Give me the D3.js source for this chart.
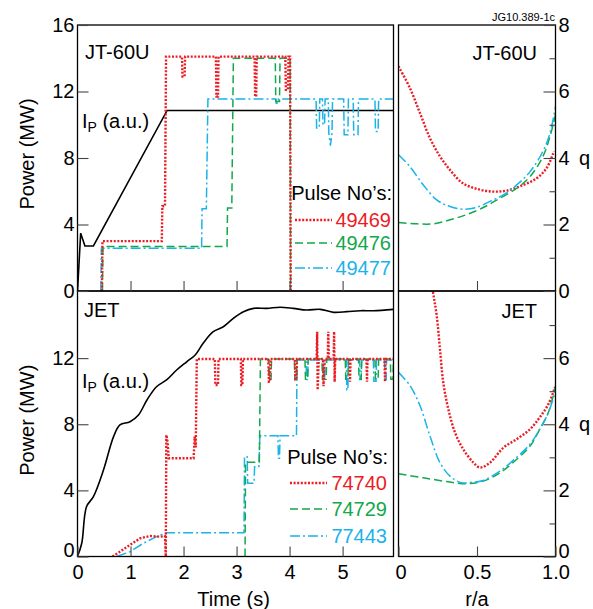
<!DOCTYPE html>
<html lang="en">

<head>
    <meta charset="UTF-8">
    <title>JT-60U / JET power and q profiles</title>
    <script src="https://d3js.org/d3.v7.min.js"></script>
    <style>
        body { margin: 0; background: #fff; }
        text { font-family: "Liberation Sans", Arial, Helvetica, sans-serif; }
    </style>
</head>

<body>
    <svg id="chart" width="593" height="609"></svg>
    <script>
        // ---- data ----
        const timeTicks = [0, 1, 2, 3, 4, 5];
        const rTicks = [0, 0.5, 1.0];
        const powerTicksTop = [0, 4, 8, 12, 16];
        const powerTicksBot = [0, 4, 8, 12];
        const qTicksTop = [0, 2, 4, 6, 8];
        const qTicksBot = [0, 2, 4, 6];
        const qMinor = [1, 3, 5, 7];

        const jt60uPulses = ["49469", "49476", "49477"];
        const jetPulses = ["74740", "74729", "77443"];

        // JT-60U: [time (s), power (MW)]
        const jt60uIp = [[0, 0], [0.06, 3.48], [0.14, 2.71], [0.30, 2.71], [1.69, 10.86], [5.96, 10.86]];
        const jt60u49469 = [[0.46, 0], [0.47, 3.0], [1.59, 3.0], [1.60, 5.1], [1.65, 5.1], [1.67, 14.1],
            [1.97, 14.1], [1.98, 12.9], [2.02, 12.9], [2.03, 14.1], [2.61, 14.1], [2.62, 11.7], [2.65, 11.7],
            [2.66, 14.1], [3.34, 14.1], [3.35, 11.7], [3.37, 11.7], [3.38, 14.1], [3.92, 14.1], [3.93, 12.1],
            [3.97, 12.1], [3.98, 14.1], [4.01, 14.1], [4.02, 0]];
        const jt60u49476 = [[0.47, 0], [0.48, 2.67], [2.82, 2.67], [2.83, 5.0], [2.91, 5.0], [2.94, 14.0],
            [3.73, 14.0], [3.74, 11.4], [3.81, 11.4], [3.82, 14.0], [4.01, 14.0], [4.02, 0]];
        const jt60u49477 = [[0.44, 0], [0.45, 2.57], [2.34, 2.57], [2.35, 4.95], [2.43, 4.95], [2.46, 11.55],
            [3.74, 11.55], [3.75, 11.3], [3.78, 11.3], [3.79, 11.55], [4.50, 11.55], [4.51, 9.8], [4.56, 9.8],
            [4.57, 11.55], [4.62, 11.55], [4.63, 10.0], [4.66, 10.0], [4.67, 11.55], [4.73, 11.55], [4.74, 9.5],
            [4.77, 8.75], [4.80, 9.5], [4.81, 11.55], [5.02, 11.55], [5.03, 9.4], [5.10, 9.4], [5.11, 11.55],
            [5.20, 11.55], [5.21, 9.4], [5.29, 9.4], [5.30, 11.55], [5.61, 11.55], [5.62, 9.6], [5.67, 9.6],
            [5.68, 11.55], [5.96, 11.55]];

        // JT-60U: [r/a, q]
        const jt60uQ49469 = [[0, 6.76], [0.073, 6.1], [0.137, 5.35], [0.2, 4.6], [0.264, 4.05], [0.328, 3.64],
            [0.41, 3.24], [0.5, 3.07], [0.6, 2.99], [0.69, 3.02], [0.795, 3.19], [0.88, 3.39], [0.944, 3.7], [0.99, 4.2]];
        const jt60uQ49476 = [[0, 2.06], [0.116, 2.02], [0.22, 2.02], [0.328, 2.14], [0.43, 2.29], [0.54, 2.51],
            [0.646, 2.79], [0.753, 3.09], [0.838, 3.44], [0.92, 4.05], [0.965, 4.65], [1.0, 5.3]];
        const jt60uQ49477 = [[0, 4.1], [0.073, 3.74], [0.158, 3.19], [0.243, 2.74], [0.328, 2.54], [0.41, 2.46],
            [0.5, 2.52], [0.58, 2.69], [0.667, 2.89], [0.753, 3.19], [0.838, 3.59], [0.92, 4.2], [0.965, 4.75], [1.0, 5.55]];

        // JET: [time (s), power (MW)]
        const jetIp = [[0, 0], [0.08, 0.8], [0.17, 3.01], [0.30, 3.62], [0.49, 5.23], [0.68, 7.25], [0.80, 7.96],
            [0.99, 8.15], [1.15, 8.56], [1.31, 9.47], [1.49, 10.27], [1.68, 10.68], [1.87, 11.28], [2.06, 11.78],
            [2.22, 12.19], [2.37, 12.9], [2.56, 13.6], [2.75, 13.9], [2.94, 14.41], [3.13, 14.81], [3.32, 15.01],
            [3.57, 15.01], [3.82, 15.08], [4.07, 15.01], [4.32, 14.91], [4.58, 14.95], [4.83, 14.77], [5.08, 14.81],
            [5.33, 14.87], [5.58, 14.87], [5.96, 14.95]];
        const jet74740 = [[0.66, 0], [0.80, 0.29], [0.99, 0.70], [1.18, 1.10], [1.37, 1.24], [1.56, 1.20],
            [1.65, 1.24], [1.665, 0], [1.675, 7.35], [1.70, 6.9], [1.72, 5.94], [2.19, 5.94], [2.21, 7.25],
            [2.23, 6.6], [2.25, 11.95], [2.59, 11.95], [2.60, 10.37], [2.65, 10.37], [2.66, 11.95], [3.08, 11.95],
            [3.09, 10.37], [3.11, 10.37], [3.12, 11.95], [3.60, 11.95], [3.61, 10.57], [3.63, 10.57], [3.64, 11.95],
            [4.10, 11.95], [4.11, 10.7], [4.13, 10.7], [4.14, 11.95], [4.51, 11.95], [4.52, 13.6], [4.53, 10.07],
            [4.55, 11.95], [4.63, 11.95], [4.64, 10.3], [4.66, 11.95], [4.72, 11.95], [4.73, 13.6], [4.74, 11.95],
            [4.83, 11.95], [4.84, 13.6], [4.85, 10.57], [4.86, 11.95], [5.13, 11.95], [5.14, 10.57], [5.15, 11.95],
            [5.45, 11.95], [5.46, 10.57], [5.47, 11.95], [5.79, 11.95], [5.80, 10.57], [5.81, 11.95], [5.96, 11.95]];
        const jet74729 = [[3.16, 0], [3.17, 5.70], [3.43, 5.70], [3.45, 11.95], [3.60, 11.95], [3.61, 10.72],
            [3.65, 10.72], [3.66, 11.95], [4.09, 11.95], [4.10, 10.72], [4.13, 10.72], [4.14, 11.95], [4.29, 11.95],
            [4.30, 10.72], [4.34, 10.72], [4.35, 11.95], [4.61, 11.95], [4.62, 10.72], [4.69, 10.72], [4.70, 11.95],
            [5.05, 11.95], [5.06, 10.72], [5.10, 10.72], [5.11, 11.95], [5.30, 11.95], [5.31, 10.72], [5.35, 10.72],
            [5.36, 11.95], [5.61, 11.95], [5.62, 10.72], [5.67, 10.72], [5.68, 11.95], [5.90, 11.95], [5.91, 10.72],
            [5.95, 10.72], [5.96, 11.95]];
        const jet77443 = [[0.74, 0], [0.99, 0.29], [1.24, 0.80], [1.49, 1.20], [1.67, 1.44], [3.14, 1.44],
            [3.15, 6.04], [3.20, 6.04], [3.21, 4.43], [3.33, 4.43], [3.34, 5.43], [3.42, 5.43], [3.44, 7.31],
            [3.78, 7.31], [3.79, 5.94], [3.81, 5.94], [3.82, 7.31], [4.13, 7.31], [4.14, 11.89], [4.31, 11.89],
            [4.32, 10.7], [4.34, 10.7], [4.35, 11.89], [4.63, 11.89], [4.64, 10.7], [4.66, 10.7], [4.67, 11.89],
            [5.07, 11.89], [5.08, 10.07], [5.10, 10.07], [5.11, 11.89], [5.32, 11.89], [5.33, 10.7], [5.35, 10.7],
            [5.36, 11.89], [5.58, 11.89], [5.59, 10.6], [5.63, 10.6], [5.64, 11.89], [5.79, 11.89], [5.80, 10.7],
            [5.82, 10.7], [5.83, 11.89], [5.96, 11.89]];

        // JET: [r/a, q]
        const jetQ74740 = [[0.19, 9.2], [0.218, 8.06], [0.243, 7.3], [0.264, 6.28], [0.285, 5.27], [0.317, 4.46],
            [0.36, 3.75], [0.413, 3.24], [0.477, 2.84], [0.519, 2.69], [0.583, 2.84], [0.668, 3.29], [0.753, 3.55],
            [0.838, 3.85], [0.9, 4.21], [0.955, 4.61], [0.997, 5.12]];
        const jetQ74729 = [[0, 2.5], [0.158, 2.38], [0.328, 2.25], [0.435, 2.2], [0.54, 2.28], [0.646, 2.53],
            [0.753, 2.94], [0.838, 3.34], [0.9, 3.85], [0.955, 4.36], [1.0, 5.17]];
        const jetQ77443 = [[0, 5.57], [0.073, 5.17], [0.137, 4.56], [0.2, 3.65], [0.264, 2.84], [0.328, 2.43],
            [0.4, 2.23], [0.477, 2.25], [0.54, 2.3], [0.646, 2.58], [0.753, 3.0], [0.838, 3.4], [0.9, 3.85],
            [0.955, 4.36], [1.0, 5.0]];

        // ---- styles ----
        const colors = ["#ec1c24", "#12a84b", "#1ab3ea"];
        const dashes = ["2,1.6", "8,4", "10,3,2,3"];
        const widths = [2.4, 1.5, 1.5];

        const svg = d3.select("#chart");

        // scales
        const xT = d3.scaleLinear().domain([0, 5.96]).range([77.5, 393.5]);
        const xR = d3.scaleLinear().domain([0, 1]).range([398.5, 555.5]);
        const yTop = d3.scaleLinear().domain([0, 16]).range([291, 25]);
        const yBot = d3.scaleLinear().domain([0, 16]).range([556.5, 292]);
        const qTop = d3.scaleLinear().domain([0, 8]).range([291, 25]);
        const qBot = d3.scaleLinear().domain([0, 8]).range([556.5, 292]);

        // clip paths for each panel
        const defs = svg.append("defs");
        function clip(id, x0, y0, x1, y1) {
            defs.append("clipPath").attr("id", id).append("rect")
                .attr("x", x0).attr("y", y0).attr("width", x1 - x0).attr("height", y1 - y0);
        }
        clip("c-tl", 77.5, 25, 393.5, 291);
        clip("c-bl", 77.5, 291, 393.5, 556.5);
        clip("c-tr", 398.5, 25, 555.5, 291);
        clip("c-br", 398.5, 291, 555.5, 556.5);

        function drawLine(data, xs, ys, clipId, i, curve) {
            const line = d3.line().x(d => xs(d[0])).y(d => ys(d[1]));
            if (curve) line.curve(curve);
            svg.append("path")
                .datum(data)
                .attr("clip-path", `url(#${clipId})`)
                .attr("fill", "none")
                .attr("stroke", i < 0 ? "#000" : colors[i])
                .attr("stroke-width", i < 0 ? 1.6 : widths[i])
                .attr("stroke-dasharray", i < 0 ? null : dashes[i])
                .attr("d", line);
        }

        // power traces (Ip first, then the three pulses)
        drawLine(jt60uIp, xT, yTop, "c-tl", -1);
        [jt60u49477, jt60u49476, jt60u49469].forEach((d, k) => drawLine(d, xT, yTop, "c-tl", 2 - k));
        drawLine(jetIp, xT, yBot, "c-bl", -1, d3.curveCatmullRom);
        [jet77443, jet74729, jet74740].forEach((d, k) => drawLine(d, xT, yBot, "c-bl", 2 - k));

        // q profiles
        [jt60uQ49469, jt60uQ49476, jt60uQ49477].forEach((d, i) => drawLine(d, xR, qTop, "c-tr", i, d3.curveCatmullRom));
        [jetQ74740, jetQ74729, jetQ77443].forEach((d, i) => drawLine(d, xR, qBot, "c-br", i, d3.curveCatmullRom));

        // frames
        [[77.5, 25, 393.5, 291], [77.5, 291, 393.5, 556.5], [398.5, 25, 555.5, 291], [398.5, 291, 555.5, 556.5]]
            .forEach(b => {
                svg.append("rect")
                    .attr("x", b[0]).attr("y", b[1])
                    .attr("width", b[2] - b[0]).attr("height", b[3] - b[1])
                    .attr("fill", "none").attr("stroke", "#000").attr("stroke-width", 1.3);
            });

        function styleAxis(g) {
            g.select(".domain").remove();
            g.selectAll(".tick line").attr("stroke", "#444").attr("stroke-width", 1.1);
            g.selectAll(".tick text").attr("font-size", "20px").attr("fill", "#000")
                .style("font-family", "'Liberation Sans', Arial, sans-serif");
        }

        // left power axes
        svg.append("g").attr("transform", `translate(${xT(0)},0)`)
            .call(d3.axisLeft(yTop).tickValues(powerTicksTop).tickSizeInner(-11).tickSizeOuter(0).tickPadding(3))
            .call(styleAxis);
        const botLeft = svg.append("g").attr("transform", `translate(${xT(0)},0)`)
            .call(d3.axisLeft(yBot).tickValues(powerTicksBot).tickSizeInner(-11).tickSizeOuter(0).tickPadding(3))
            .call(styleAxis);
        botLeft.selectAll(".tick text").filter(d => d === 0).attr("y", -6);

        // time ticks
        svg.append("g").attr("transform", "translate(0,291)")
            .call(d3.axisBottom(xT).tickValues(timeTicks.slice(1)).tickSizeInner(-10).tickSizeOuter(0).tickFormat(""))
            .call(styleAxis);
        svg.append("g").attr("transform", "translate(0,556.5)")
            .call(d3.axisBottom(xT).tickValues(timeTicks).tickSizeInner(-10).tickSizeOuter(0).tickPadding(8)
                .tickFormat(d3.format("d")))
            .call(styleAxis);

        // r/a ticks
        svg.append("g").attr("transform", "translate(0,291)")
            .call(d3.axisBottom(xR).tickValues([0.5]).tickSizeInner(-10).tickSizeOuter(0).tickFormat(""))
            .call(styleAxis);
        const rAxis = svg.append("g").attr("transform", "translate(0,556.5)")
            .call(d3.axisBottom(xR).tickValues(rTicks).tickSizeInner(-10).tickSizeOuter(0).tickPadding(8)
                .tickFormat(d => d === 0 ? "0" : d3.format(".1f")(d)))
            .call(styleAxis);
        rAxis.selectAll(".tick text").filter(d => d === 0).attr("x", 2);

        // right q axes
        function qAxis(scale, ticks) {
            svg.append("g").attr("transform", `translate(${xR(1)},0)`)
                .call(d3.axisRight(scale).tickValues(qMinor).tickSizeInner(-6).tickSizeOuter(0).tickFormat(""))
                .call(styleAxis);
            return svg.append("g").attr("transform", `translate(${xR(1)},0)`)
                .call(d3.axisRight(scale).tickValues(ticks).tickSizeInner(-12).tickSizeOuter(0).tickPadding(3))
                .call(styleAxis);
        }
        qAxis(qTop, qTicksTop);
        qAxis(qBot, qTicksBot).selectAll(".tick text").filter(d => d === 0).attr("y", -5);

        function label(x, y, str, opts = {}) {
            return svg.append("text")
                .attr("x", x).attr("y", y)
                .attr("font-size", opts.size || "20px")
                .attr("text-anchor", opts.anchor || "start")
                .attr("fill", opts.color || "#000")
                .text(str);
        }

        // q labels next to "4"
        label(579, qTop(4) + 7, "q");
        label(579, qBot(4) + 7, "q");

        // axis titles
        [yTop(8), yBot(8)].forEach(cy => {
            svg.append("text")
                .attr("transform", `translate(34,${cy - 4}) rotate(-90)`)
                .attr("text-anchor", "middle")
                .attr("font-size", "20px")
                .text("Power (MW)");
        });
        label(xT(3) - 3, 606, "Time (s)", { anchor: "middle" });
        label(xR(0.5), 606, "r/a", { anchor: "middle" });

        // panel titles
        label(85, 59, "JT-60U");
        label(537, 60, "JT-60U", { anchor: "end" });
        label(84, 317, "JET");
        label(537, 318, "JET", { anchor: "end" });
        label(555, 21, "JG10.389-1c", { anchor: "end", size: "11px" });

        // Ip labels
        [128, 388].forEach(by => {
            const t = svg.append("text").attr("x", 82).attr("y", by).attr("font-size", "20px");
            t.append("tspan").text("I");
            t.append("tspan").attr("font-size", "14px").attr("dy", 4).text("P");
            t.append("tspan").attr("dy", -4).text(" (a.u.)");
        });

        // legends
        function legend(pulses, xLine, xRight, yHead, ys) {
            label(xRight, yHead, "Pulse No\u2019s:", { anchor: "end" });
            pulses.forEach((p, i) => {
                svg.append("line")
                    .attr("x1", xLine).attr("x2", xLine + 37)
                    .attr("y1", ys[i]).attr("y2", ys[i])
                    .attr("stroke", colors[i])
                    .attr("stroke-width", widths[i])
                    .attr("stroke-dasharray", dashes[i]);
                label(xRight - 1, ys[i] + 7, p, { anchor: "end", color: colors[i] });
            });
        }
        legend(jt60uPulses, 295, 392, 200, [220, 243, 268]);
        legend(jetPulses, 290, 388, 464, [483, 509, 536]);
    </script>
</body>

</html>
